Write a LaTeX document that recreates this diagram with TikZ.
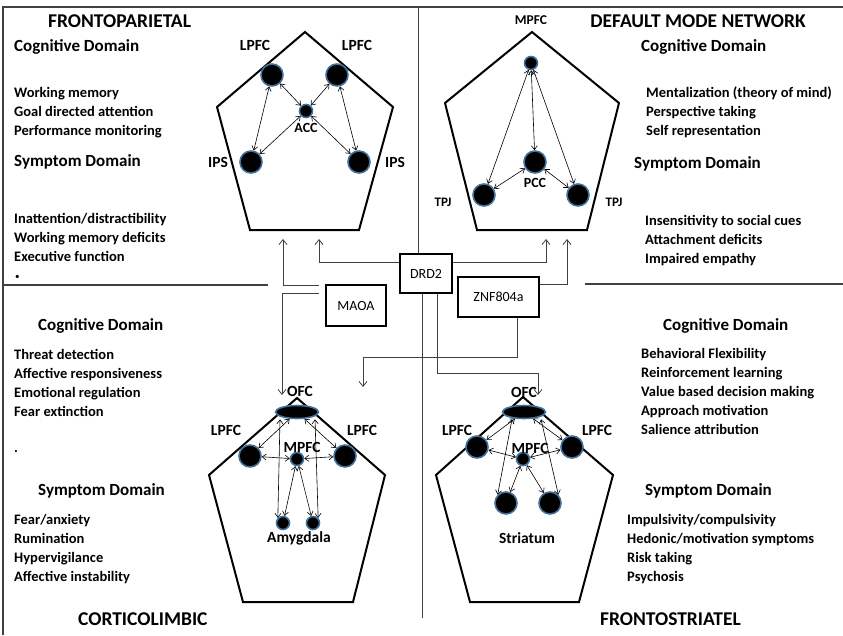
\documentclass[tikz,border=0pt]{standalone}
\usepackage{fontspec}
\setmainfont{Carlito}
\usetikzlibrary{shapes.geometric,arrows.meta}

\definecolor{roiblue}{HTML}{41719C}
\definecolor{framegray}{HTML}{404040}

\tikzset{
  roi/.style={circle,fill=black,draw=roiblue,line width=1.6pt,minimum size=22pt,inner sep=0pt},
  smallroi/.style={roi,minimum size=13pt},
  ofcroi/.style={ellipse,fill=black,draw=roiblue,line width=1.6pt,minimum width=43pt,minimum height=13pt,inner sep=0pt},
  link/.style={{Straight Barb[length=4pt,width=6pt]}-{Straight Barb[length=4pt,width=6pt]},line width=0.6pt},
  pent/.style={line width=2pt,line join=miter},
  framed/.style={draw=framegray,line width=1.2pt},
  wire/.style={draw=framegray,line width=0.8pt},
  genebox/.style={draw,line width=2pt,inner sep=0pt,font=\fontsize{14}{16}\selectfont},
  lab/.style={inner sep=0pt,font=\bfseries\fontsize{15.5}{17}\selectfont},
  title/.style={inner sep=0pt,anchor=base west,font=\bfseries\fontsize{19.5}{22}\selectfont},
  head/.style={inner sep=0pt,anchor=base west,font=\bfseries\fontsize{17}{19}\selectfont},
  item/.style={inner sep=0pt,anchor=base west,font=\bfseries\fontsize{14.5}{17}\selectfont}
}

\begin{document}
\begin{tikzpicture}[x=1pt,y=-1pt]
\useasboundingbox (0,0) rectangle (843,635);

% frame
\draw[framed] (3,635) -- (3,7) -- (843,7);
\draw[framed] (3,285) -- (268,285);
\draw[framed] (585,284) -- (843,284);

% pentagons
\draw[pent] (305,32) -- (393,107) -- (359,230) -- (250,230) -- (217,107) -- cycle;
\draw[pent] (532,32) -- (619,103) -- (587,230) -- (477,230) -- (445,103) -- cycle;
\draw[pent] (297,398) -- (385,475) -- (353,602) -- (243,602) -- (209,475) -- cycle;
\draw[pent] (523,397) -- (613,475) -- (579,602) -- (470,602) -- (436,475) -- cycle;

% frontoparietal
\node[roi] (lpfcA) at (272,75) {};
\node[roi] (lpfcB) at (337,75) {};
\node[smallroi] (acc) at (306,111) {};
\node[roi] (ipsA) at (251,162) {};
\node[roi] (ipsB) at (359,162) {};
\node[lab] (lpfcAl) at (255,45) {LPFC};
\node[lab] (lpfcBl) at (357,45) {LPFC};
\node[lab,font=\bfseries\fontsize{14}{16}\selectfont] (accl) at (306,128) {ACC};
\node[lab] (ipsAl) at (218,162) {IPS};
\node[lab] (ipsBl) at (395,162) {IPS};
\draw[link] (lpfcA) -- (acc);
\draw[link] (lpfcB) -- (acc);
\draw[link] (acc) -- (ipsA);
\draw[link] (acc) -- (ipsB);
\draw[link] (lpfcA) -- (ipsA);
\draw[link] (lpfcB) -- (ipsB);

% default mode
\node[smallroi] (mpfcT) at (531,63) {};
\node[roi] (pcc) at (535,162) {};
\node[roi] (tpjA) at (484,195) {};
\node[roi] (tpjB) at (578,195) {};
\node[lab,font=\bfseries\fontsize{13.5}{16}\selectfont] (mpfcTl) at (531,20) {MPFC};
\node[lab,font=\bfseries\fontsize{14}{16}\selectfont] (pccl) at (535,183) {PCC};
\node[lab,font=\bfseries\fontsize{13}{16}\selectfont] (tpjAl) at (443,202) {TPJ};
\node[lab,font=\bfseries\fontsize{13}{16}\selectfont] (tpjBl) at (614,202) {TPJ};
\draw[link] (mpfcT) -- (tpjA);
\draw[link] (mpfcT) -- (pcc);
\draw[link] (mpfcT) -- (tpjB);
\draw[link] (pcc) -- (tpjA);
\draw[link] (pcc) -- (tpjB);

% corticolimbic
\node[ofcroi] (ofcL) at (297,412) {};
\node[roi] (lpfcC) at (250,456) {};
\node[roi] (lpfcD) at (345,456) {};
\node[smallroi] (mpfcL) at (297,459) {};
\node[smallroi] (amyA) at (283,523) {};
\node[smallroi] (amyB) at (313,523) {};
\node[lab] (ofcLl) at (300,391) {OFC};
\node[lab] (lpfcCl) at (226,430) {LPFC};
\node[lab] (lpfcDl) at (362,430) {LPFC};
\node[lab] (mpfcLl) at (302,447) {MPFC};
\node[lab] (amyl) at (299,538) {Amygdala};
\draw[link] (ofcL) -- (lpfcC);
\draw[link] (ofcL) -- (lpfcD);
\draw[link] (lpfcC) -- (mpfcL);
\draw[link] (mpfcL) -- (lpfcD);
\draw[link] ([xshift=-17pt]ofcL.south) -- (amyA.north west);
\draw[link] ([xshift=18pt]ofcL.south) -- (amyB.north east);
\draw[link] (mpfcL) -- (amyA);
\draw[link] (mpfcL) -- (amyB);

% frontostriatal
\node[ofcroi] (ofcR) at (524,412) {};
\node[roi] (lpfcE) at (477,447) {};
\node[roi] (lpfcF) at (572,447) {};
\node[smallroi] (mpfcR) at (523,459) {};
\node[roi] (strA) at (506,503) {};
\node[roi] (strB) at (550,503) {};
\node[lab] (ofcRl) at (524,392) {OFC};
\node[lab] (lpfcEl) at (457,430) {LPFC};
\node[lab] (lpfcFl) at (597,430) {LPFC};
\node[lab] (mpfcRl) at (530,448) {MPFC};
\node[lab] (strl) at (527,538) {Striatum};
\draw[link] (ofcR) -- (lpfcE);
\draw[link] (ofcR) -- (lpfcF);
\draw[link] (lpfcE) -- (mpfcR);
\draw[link] (mpfcR) -- (lpfcF);
\draw[link] ([xshift=-12pt]ofcR.south) -- (strA.north west);
\draw[link] ([xshift=17pt]ofcR.south) -- (strB.north east);
\draw[link] (mpfcR) -- (strA);
\draw[link] (mpfcR) -- (strB);

% genes
\node[genebox,minimum width=52pt,minimum height=39pt] (drd) at (426,273.5) {DRD2};
\node[genebox,minimum width=60pt,minimum height=41pt] (maoa) at (356,305.5) {MAOA};
\node[genebox,minimum width=81pt,minimum height=40pt] (znf) at (498.5,297) {ZNF804a};
\coordinate (fpA) at (283,239);
\coordinate (fpB) at (319,239);
\coordinate (dmA) at (546,239);
\coordinate (dmB) at (567,239);
\coordinate (clA) at (282,395);
\coordinate (clB) at (363,387);
\coordinate (fsA) at (538,395);
\coordinate (divT) at (418,7);
\coordinate (divB) at (422,618);
\begin{scope}[>={Straight Barb[length=5pt,width=8pt]}]
\draw[wire] (divT) -- (divT |- drd.north);
\draw[wire] (drd.south -| divB) -- (divB);
\draw[wire,->] (drd.west |- 0,262) -| (fpB);
\draw[wire,->] (drd.east |- 0,262) -| (dmA);
\draw[wire,->] (znf.east |- 0,284) -| (dmB);
\draw[wire,->] ([xshift=-6pt]maoa.west |- 0,285) -| (fpA);
\draw[wire,->] ([xshift=-6pt]maoa.west |- 0,293) -| (clA);
\draw[wire,->] (znf.south -| 517,0) |- (clB |- 0,357) -- (clB);
\draw[wire,->] (drd.south -| 437,0) |- (fsA |- 0,373) -- (fsA);
\end{scope}

% frontoparietal text
\node[title] (fptitle) at (48,27) {FRONTOPARIETAL};
\node[head] (fpcog) at (14,51) {Cognitive Domain};
\foreach \t [count=\i] in {Working memory,Goal directed attention,Performance monitoring}
  \node[item] (fpc\i) at (14,{78+19*\i}) {\t};
\node[head] (fpsym) at (14,166) {Symptom Domain};
\foreach \t [count=\i] in {Inattention/distractibility,Working memory deficits,Executive function}
  \node[item] (fps\i) at (14,{204+19*\i}) {\t};
\node[item,font=\fontsize{9}{10}\selectfont] (fpdot) at (15,279) {\textbullet};

% default mode text
\node[title,anchor=base east] (dmtitle) at (806,27) {DEFAULT MODE NETWORK};
\node[head] (dmcog) at (641,51) {Cognitive Domain};
\foreach \t [count=\i] in {Mentalization (theory of mind),Perspective taking,Self representation}
  \node[item] (dmc\i) at (646,{78+19*\i}) {\t};
\node[head] (dmsym) at (634,168) {Symptom Domain};
\foreach \t [count=\i] in {Insensitivity to social cues,Attachment deficits,Impaired empathy}
  \node[item] (dms\i) at (645,{206+19*\i}) {\t};

% corticolimbic text
\node[head] (clcog) at (38,330) {Cognitive Domain};
\foreach \t [count=\i] in {Threat detection,Affective responsiveness,Emotional regulation,Fear extinction}
  \node[item] (clc\i) at (14,{340+19*\i}) {\t};
\node[item] (cldot) at (14,452) {.};
\node[head] (clsym) at (38,495) {Symptom Domain};
\foreach \t [count=\i] in {Fear/anxiety,Rumination,Hypervigilance,Affective instability}
  \node[item] (cls\i) at (14,{505+19*\i}) {\t};
\node[title] (cltitle) at (78,625) {CORTICOLIMBIC};

% frontostriatal text
\node[head] (fscog) at (663,330) {Cognitive Domain};
\foreach \t [count=\i] in {Behavioral Flexibility,Reinforcement learning,Value based decision making,Approach motivation,Salience attribution}
  \node[item] (fsc\i) at (641,{339+19*\i}) {\t};
\node[head] (fssym) at (645,495) {Symptom Domain};
\foreach \t [count=\i] in {Impulsivity/compulsivity,Hedonic/motivation symptoms,Risk taking,Psychosis}
  \node[item] (fss\i) at (627,{505+19*\i}) {\t};
\node[title] (fstitle) at (600,625) {FRONTOSTRIATEL};
\end{tikzpicture}
\end{document}
